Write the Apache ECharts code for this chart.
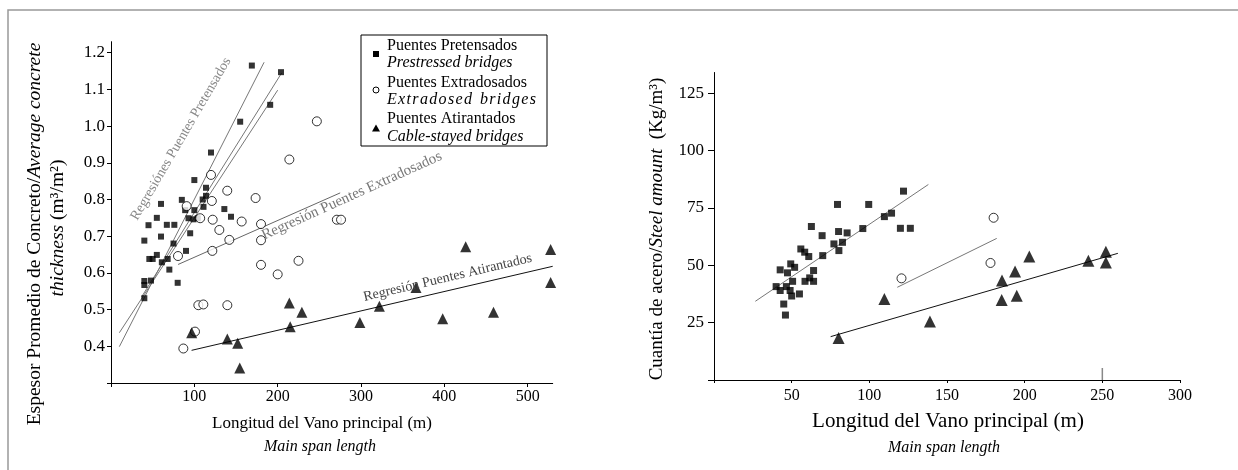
<!DOCTYPE html>
<html>
<head>
<meta charset="utf-8">
<script src="https://cdn.jsdelivr.net/npm/echarts@6/dist/echarts.min.js"></script>
<style>
  html, body { margin: 0; padding: 0; background: #fff; }
  #main { width: 1238px; height: 470px; }
</style>
</head>
<body>
<div id="main"></div>
<script>
// left panel: concrete thickness vs main span
var leftPreX = [169, 204, 191, 155, 120, 100, 114, 60, 85, 114, 110, 136, 144, 111, 89, 100, 93, 104, 99, 55, 45, 67, 76, 60, 40, 95, 75, 90, 55, 46, 50, 61, 68, 70, 80, 40, 40, 48, 40];
var leftPreY = [1.165, 1.147, 1.058, 1.012, 0.928, 0.853, 0.832, 0.788, 0.799, 0.81, 0.8, 0.774, 0.753, 0.78, 0.771, 0.771, 0.749, 0.749, 0.746, 0.75, 0.73, 0.731, 0.731, 0.699, 0.688, 0.708, 0.68, 0.66, 0.649, 0.638, 0.638, 0.629, 0.638, 0.609, 0.573, 0.578, 0.567, 0.579, 0.531];
var leftExtX = [247, 214, 120, 139.5, 121, 173.5, 90.8, 107, 122, 156.8, 180, 130, 142, 180, 271, 276, 121.6, 80.4, 225, 180, 200, 104.8, 110.8, 139.6, 100.8, 86.8];
var leftExtY = [1.013, 0.909, 0.867, 0.824, 0.796, 0.804, 0.782, 0.749, 0.745, 0.74, 0.733, 0.717, 0.69, 0.689, 0.745, 0.745, 0.66, 0.646, 0.633, 0.622, 0.596, 0.512, 0.514, 0.512, 0.44, 0.394];
var leftAtiX = [425.6, 527.5, 527.5, 366, 322, 214, 229, 459, 298.6, 398, 215, 96.8, 139.6, 152, 154.5];
var leftAtiY = [0.671, 0.664, 0.574, 0.56, 0.509, 0.518, 0.493, 0.493, 0.465, 0.475, 0.453, 0.437, 0.42, 0.408, 0.341];

// regression lines (end points)
var leftRegPreA = [[10, 0.399], [183.7, 1.174]];
var leftRegPreB = [[36.8, 0.535], [204.8, 1.145]];
var leftRegPreC = [[10, 0.437], [200, 1.098]];
var leftRegExt = [[80.5, 0.623], [275, 0.818]];
var leftRegAti = [[96.7, 0.389], [530, 0.618]];

// right panel: steel amount vs main span
var rightPreX = [122, 79.5, 99.6, 114.3, 109.7, 120, 126.4, 95.8, 62.7, 69.6, 80.2, 85.7, 82.7, 77.2, 80.4, 55.9, 58.4, 61, 70, 49.4, 51.9, 42.6, 47.3, 64.1, 61.6, 58.6, 64.1, 50.6, 40, 42.6, 46.6, 49, 55, 50, 44.9, 46];
var rightPreY = [82.3, 76.5, 76.5, 72.7, 71.2, 66.1, 66.1, 66, 66.9, 62.9, 64.7, 64.1, 60, 59.3, 56.4, 57.1, 55.7, 53.8, 54.2, 50.6, 49.1, 48, 46.7, 47.7, 44.5, 43, 43, 43, 40.7, 39, 40.7, 39, 37.5, 36.6, 33.1, 28.3];
var rightExtX = [120.7, 180, 178];
var rightExtY = [44.3, 70.7, 51];
var rightAtiX = [80.2, 109.7, 139, 185.4, 185.2, 193.8, 194.9, 203, 241, 252.3, 252.3];
var rightAtiY = [18.3, 35.3, 25.5, 43.4, 34.9, 47.3, 36.7, 53.8, 52, 55.9, 51.2];

var rightRegPre = [[26.6, 34.3], [138, 85.2]];
var rightRegExt = [[118, 40.4], [182, 61.7]];
var rightRegAti = [[75.1, 18.9], [260, 55.2]];
var rightMark250 = [[250, 0], [250, 5.2]];

// ticks
var leftXTicks = [0, 100, 200, 300, 400, 500];
var leftXLabels = [100, 200, 300, 400, 500];
var leftYTicks = [0.3, 0.4, 0.5, 0.6, 0.7, 0.8, 0.9, 1.0, 1.1, 1.2];
var leftYLabels = [0.4, 0.5, 0.6, 0.7, 0.8, 0.9, 1.0, 1.1, 1.2];
var rightXTicks = [0, 50, 100, 150, 200, 250, 300];
var rightXLabels = [50, 100, 150, 200, 250, 300];
var rightYTicks = [0, 25, 50, 75, 100, 125];
var rightYLabels = [25, 50, 75, 100, 125];

var SERIF = '"Liberation Serif", "Times New Roman", serif';

function zip(xs, ys) {
  var out = [];
  for (var i = 0; i < xs.length; i++) out.push([xs[i], ys[i]]);
  return out;
}

function valAxis(idx, min, max, ticks, labels, fmt, tickLen, margin, size) {
  return {
    type: 'value',
    gridIndex: idx,
    min: min,
    max: max,
    splitLine: { show: false },
    axisLine: { show: true, onZero: false, lineStyle: { color: '#000', width: 1 } },
    axisTick: { show: true, length: tickLen, customValues: ticks, lineStyle: { color: '#000' } },
    axisLabel: {
      customValues: labels,
      color: '#000',
      fontFamily: SERIF,
      fontSize: size,
      margin: margin,
      formatter: fmt
    }
  };
}

function regLine(data, xi, color) {
  return {
    type: 'line',
    xAxisIndex: xi,
    yAxisIndex: xi,
    data: data,
    showSymbol: false,
    silent: true,
    z: 1,
    lineStyle: { color: color, width: 1 }
  };
}

function scat(data, xi, symbol, size, filled) {
  return {
    type: 'scatter',
    xAxisIndex: xi,
    yAxisIndex: xi,
    data: data,
    symbol: symbol,
    symbolSize: size,
    z: 3,
    itemStyle: filled ? { color: '#000' } : { color: '#fff', borderColor: '#000', borderWidth: 1 }
  };
}

var chart = echarts.init(document.getElementById('main'));

var option = {
  animation: false,
  backgroundColor: '#fff',
  grid: [
    { left: 111, top: 41.7, width: 441.7, height: 341.3 },
    { left: 714, top: 72.5, width: 466, height: 307.5 }
  ],
  xAxis: [
    valAxis(0, 0, 530, leftXTicks, leftXLabels, function (v) { return v; }, 4, 6, 16),
    valAxis(1, 0, 300, rightXTicks, rightXLabels, function (v) { return v; }, 3, 8, 16)
  ],
  yAxis: [
    valAxis(0, 0.3, 1.23, leftYTicks, leftYLabels, function (v) { return v.toFixed(1); }, 4, 6, 17),
    valAxis(1, 0, 134, rightYTicks, rightYLabels, function (v) { return v; }, 6, 10, 17)
  ],
  series: [
    regLine(leftRegPreA, 0, '#777'),
    regLine(leftRegPreB, 0, '#777'),
    regLine(leftRegPreC, 0, '#777'),
    regLine(leftRegExt, 0, '#666'),
    regLine(leftRegAti, 0, '#111'),
    scat(zip(leftPreX, leftPreY), 0, 'rect', 6, true),
    scat(zip(leftExtX, leftExtY), 0, 'circle', 9, false),
    scat(zip(leftAtiX, leftAtiY), 0, 'triangle', 11, true),

    regLine(rightRegPre, 1, '#777'),
    regLine(rightRegExt, 1, '#777'),
    regLine(rightRegAti, 1, '#111'),
    {
      type: 'line', xAxisIndex: 1, yAxisIndex: 1, data: rightMark250,
      showSymbol: false, silent: true, z: 1, lineStyle: { color: '#888', width: 1.5 }
    },
    scat(zip(rightPreX, rightPreY), 1, 'rect', 7, true),
    scat(zip(rightExtX, rightExtY), 1, 'circle', 9, false),
    scat(zip(rightAtiX, rightAtiY), 1, 'triangle', 12, true)
  ]
};
chart.setOption(option);

// annotations placed from data coordinates
function txt(pos, xi, text, deg, size, color) {
  var p = chart.convertToPixel({ xAxisIndex: xi, yAxisIndex: xi }, pos);
  return {
    type: 'text', x: p[0], y: p[1], rotation: deg * Math.PI / 180, z: 10,
    style: { text: text, fill: color, fontFamily: SERIF, fontSize: size, textAlign: 'center', textVerticalAlign: 'middle' }
  };
}

function plain(x, y, text, size, italic, rot) {
  return {
    type: 'text', x: x, y: y, rotation: rot || 0, z: 10,
    style: {
      text: text, fill: '#000', fontFamily: SERIF, fontSize: size,
      fontStyle: italic ? 'italic' : 'normal', textAlign: 'center', textVerticalAlign: 'middle'
    }
  };
}

function mixed(x, y, text, size, rot) {
  return {
    type: 'text', x: x, y: y, rotation: rot || 0, z: 10,
    style: {
      text: text, fill: '#000', fontFamily: SERIF, fontSize: size,
      textAlign: 'center', textVerticalAlign: 'middle',
      rich: {
        n: { fontFamily: SERIF, fontSize: size, fill: '#000' },
        i: { fontFamily: SERIF, fontSize: size, fontStyle: 'italic', fill: '#000' }
      }
    }
  };
}

// the legend's "Extradosed bridges" is letter spaced in the original
var HS = '\u200A';
var spacedExt = 'Extradosed'.split('').join(HS) + '  ' + 'bridges'.split('').join(HS);

var lx = 387;
var graphics = [
  // outer frame
  { type: 'rect', shape: { x: 8, y: 10, width: 1260, height: 480 }, style: { fill: 'none', stroke: '#999', lineWidth: 1.5 }, z: 0, silent: true },

  txt([84, 0.965], 0, 'Regresiónes Puentes Pretensados', 59.7, 14, '#888'),
  txt([289, 0.81], 0, 'Regresión Puentes Extradosados', 24.3, 15, '#777'),
  txt([404, 0.587], 0, 'Regresión Puentes Atirantados', 13.2, 14, '#444'),

  // legend box
  { type: 'rect', shape: { x: 361, y: 35, width: 186, height: 111 }, style: { fill: '#fff', stroke: '#000', lineWidth: 1 }, z: 9 },
  { type: 'rect', shape: { x: 373, y: 51, width: 6, height: 6 }, style: { fill: '#000' }, z: 10 },
  { type: 'circle', shape: { cx: 376, cy: 90, r: 3 }, style: { fill: '#fff', stroke: '#000', lineWidth: 1 }, z: 10 },
  { type: 'polygon', shape: { points: [[376, 124.5], [372, 131.5], [380, 131.5]] }, style: { fill: '#000' }, z: 10 },
  {
    type: 'text', x: lx, y: 46, z: 10,
    style: { text: 'Puentes Pretensados', fill: '#000', fontFamily: SERIF, fontSize: 16, textVerticalAlign: 'middle' }
  },
  {
    type: 'text', x: lx, y: 63, z: 10,
    style: { text: 'Prestressed bridges', fill: '#000', fontFamily: SERIF, fontSize: 16, fontStyle: 'italic', textVerticalAlign: 'middle' }
  },
  {
    type: 'text', x: lx, y: 83, z: 10,
    style: { text: 'Puentes Extradosados', fill: '#000', fontFamily: SERIF, fontSize: 16, textVerticalAlign: 'middle' }
  },
  {
    type: 'text', x: lx, y: 99.5, z: 10,
    style: { text: spacedExt, fill: '#000', fontFamily: SERIF, fontSize: 16, fontStyle: 'italic', textVerticalAlign: 'middle' }
  },
  {
    type: 'text', x: lx, y: 119, z: 10,
    style: { text: 'Puentes Atirantados', fill: '#000', fontFamily: SERIF, fontSize: 16, textVerticalAlign: 'middle' }
  },
  {
    type: 'text', x: lx, y: 137, z: 10,
    style: { text: 'Cable-stayed bridges', fill: '#000', fontFamily: SERIF, fontSize: 16, fontStyle: 'italic', textVerticalAlign: 'middle' }
  },

  // axis titles
  plain(322, 424, 'Longitud del Vano principal (m)', 17, false),
  plain(320, 447, 'Main span length', 16, true),
  plain(948, 421, 'Longitud del Vano principal (m)', 21, false),
  plain(944, 448, 'Main span length', 16, true),
  mixed(35, 234, '{n|Espesor Promedio de Concreto/}{i|Average concrete}', 19.5, Math.PI / 2),
  mixed(58, 228, '{i|thickness} {n|(m³/m²)}', 19.5, Math.PI / 2),
  mixed(657, 229, '{n|Cuantía de acero/}{i|Steel amount}{n|  (Kg/m³)}', 19, Math.PI / 2)
];

chart.setOption({ graphic: graphics });
</script>
</body>
</html>
